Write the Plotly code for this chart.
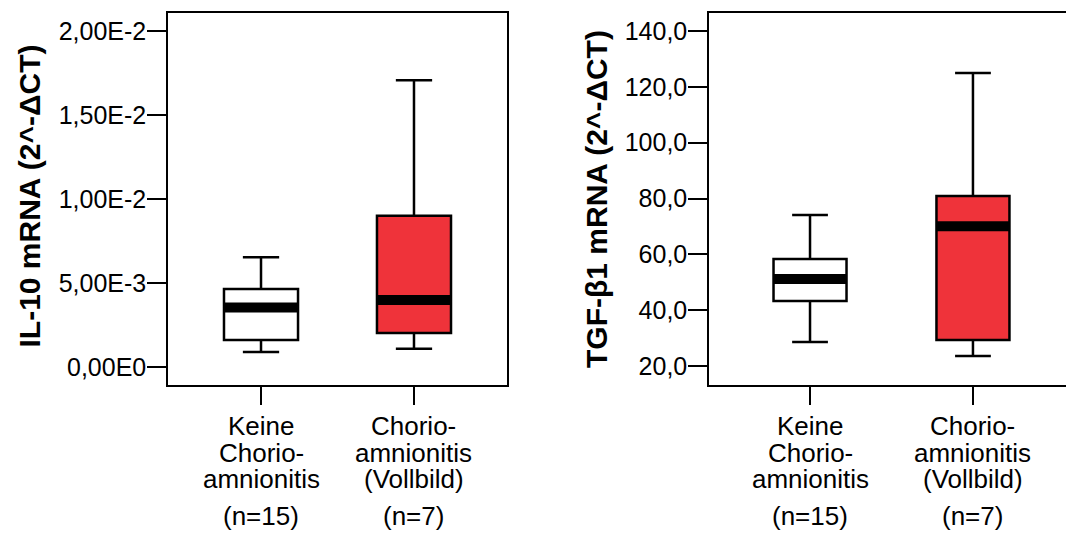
import plotly.graph_objects as go

# ---------------- data ----------------
groups = ["Keine Chorioamnionitis", "Chorioamnionitis (Vollbild)"]
label_lines = [["Keine", "Chorio-", "amnionitis"], ["Chorio-", "amnionitis", "(Vollbild)"]]
n_labels = ["(n=15)", "(n=7)"]
box_colors = ["#FFFFFF", "#EF333A"]

il10_lower = [0.00089, 0.00109]
il10_q1 = [0.00161, 0.00202]
il10_median = [0.00354, 0.00399]
il10_q3 = [0.00464, 0.00901]
il10_upper = [0.00653, 0.01707]
il10_tickvals = [0.0, 0.005, 0.010, 0.015, 0.020]
il10_ticktext = ["0,00E0", "5,00E-3", "1,00E-2", "1,50E-2", "2,00E-2"]

tgf_lower = [28.6, 23.6]
tgf_q1 = [43.3, 29.3]
tgf_median = [51.2, 70.1]
tgf_q3 = [58.3, 80.9]
tgf_upper = [74.1, 125.0]
tgf_tickvals = [20, 40, 60, 80, 100, 120, 140]
tgf_ticktext = ["20,0", "40,0", "60,0", "80,0", "100,0", "120,0", "140,0"]

title_left = "IL-10 mRNA (2^-ΔCT)"
title_right = "TGF-β1 mRNA (2^-ΔCT)"

# ---------------- layout constants ----------------
W, H = 1066, 538
TOP, BOTTOM = 13, 385
FONT = "Liberation Sans, Arial, sans-serif"


def px_x(p):
    return p / W


def px_y(p):
    return (BOTTOM - p) / (BOTTOM - TOP)


fig = go.Figure()

panels = [
    dict(xa="x", ya="y", lo=il10_lower, q1=il10_q1, med=il10_median, q3=il10_q3, up=il10_upper, bw=0.484),
    dict(xa="x2", ya="y2", lo=tgf_lower, q1=tgf_q1, med=tgf_median, q3=tgf_q3, up=tgf_upper, bw=0.448),
]

for p in panels:
    for i in range(len(groups)):
        fig.add_trace(go.Box(
            x=[i], q1=[p["q1"][i]], median=[p["med"][i]], q3=[p["q3"][i]],
            lowerfence=[p["lo"][i]], upperfence=[p["up"][i]],
            width=p["bw"], whiskerwidth=0.49, boxpoints=False,
            fillcolor=box_colors[i], line=dict(color="black", width=2.5),
            xaxis=p["xa"], yaxis=p["ya"], showlegend=False, hoverinfo="skip",
            name=groups[i],
        ))
    for i in range(len(groups)):
        fig.add_trace(go.Scatter(
            x=[i - p["bw"] / 2, i + p["bw"] / 2], y=[p["med"][i], p["med"][i]],
            mode="lines", line=dict(color="black", width=10),
            xaxis=p["xa"], yaxis=p["ya"], showlegend=False, hoverinfo="skip",
        ))

axis_common = dict(showgrid=False, zeroline=False, showline=True, linecolor="black",
                   linewidth=1.5, ticks="outside", tickcolor="black", tickwidth=1.5)

fig.update_layout(
    width=W, height=H,
    margin=dict(l=0, r=0, t=TOP, b=H - BOTTOM, pad=0),
    paper_bgcolor="white", plot_bgcolor="white",
    font=dict(family=FONT, color="black"),
    xaxis=dict(domain=[px_x(168), px_x(507)], range=[-0.608, 1.608], tickvals=[0, 1],
               showticklabels=False, ticklen=18, mirror=True, anchor="y", **axis_common),
    yaxis=dict(range=[-0.00107, 0.02107], tickvals=il10_tickvals, ticktext=il10_ticktext,
               ticklen=19, mirror=True, anchor="x", tickfont=dict(size=25, family=FONT),
               ticklabelstandoff=-4, **axis_common),
    xaxis2=dict(domain=[px_x(709), 1.0], range=[-0.62, 1.571], tickvals=[0, 1],
                showticklabels=False, ticklen=18, mirror=True, anchor="y2", **axis_common),
    yaxis2=dict(range=[13.2, 146.45], tickvals=tgf_tickvals, ticktext=tgf_ticktext,
                ticklen=19, mirror=False, anchor="x2", tickfont=dict(size=25, family=FONT),
                ticklabelstandoff=-4, **axis_common),
)

annotations = []
baselines = [435, 461.7, 488]
n_baseline = 525
for xref in ["x", "x2"]:
    for i in range(len(groups)):
        for k, line in enumerate(label_lines[i]):
            annotations.append(dict(
                x=i, xref=xref, y=px_y(baselines[k] - 9), yref="paper",
                text=line, showarrow=False, xanchor="center", yanchor="middle",
                font=dict(size=26, family=FONT, color="black"),
            ))
        annotations.append(dict(
            x=i, xref=xref, y=px_y(n_baseline - 9), yref="paper",
            text=n_labels[i], showarrow=False, xanchor="center", yanchor="middle",
            font=dict(size=26, family=FONT, color="black"),
        ))

annotations.append(dict(x=px_x(28.5), xref="paper", y=px_y(196), yref="paper",
                        text="<b>" + title_left + "</b>", textangle=-90, showarrow=False,
                        xanchor="center", yanchor="middle",
                        font=dict(size=30, family=FONT, color="black")))
annotations.append(dict(x=px_x(596), xref="paper", y=px_y(199), yref="paper",
                        text="<b>" + title_right + "</b>", textangle=-90, showarrow=False,
                        xanchor="center", yanchor="middle",
                        font=dict(size=30, family=FONT, color="black")))
fig.update_layout(annotations=annotations)

fig.write_html("out.html")
